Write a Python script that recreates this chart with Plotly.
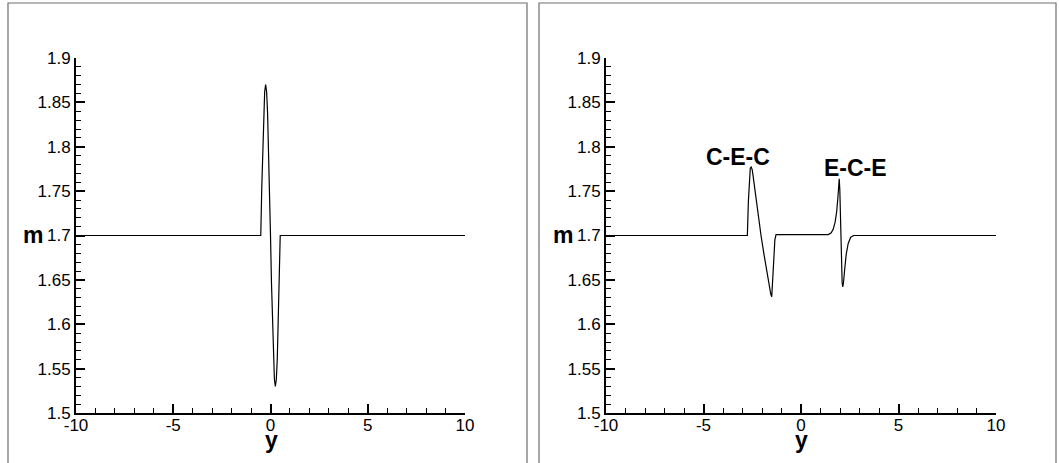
import plotly.graph_objects as go

# Profile of m across y: single compression/expansion pulse
left_y = [-10.0, -0.5, -0.45, -0.4, -0.35, -0.3, -0.25, -0.2, -0.15, -0.1, -0.05,
          0.0, 0.05, 0.1, 0.15, 0.2, 0.25, 0.3, 0.35, 0.4, 0.45, 0.5, 10.0]
left_m = [1.700, 1.700, 1.753, 1.800, 1.838, 1.862, 1.870, 1.862, 1.838, 1.800, 1.753,
          1.700, 1.647, 1.600, 1.562, 1.538, 1.530, 1.538, 1.562, 1.600, 1.647, 1.700, 1.700]

# Profile of m across y: C-E-C and E-C-E structures
right_y = [-10.0, -2.75, -2.70, -2.65, -2.60, -2.55, -2.50, -2.45, -2.35, -2.20, -2.05,
           -1.90, -1.75, -1.62, -1.55, -1.50, -1.46, -1.40, -1.34, -1.28,
           0.0, 1.40, 1.55, 1.65, 1.75, 1.83, 1.89, 1.93, 1.96, 1.99, 2.03, 2.07,
           2.11, 2.14, 2.18, 2.24, 2.32, 2.42, 2.55, 2.70, 10.0]
right_m = [1.700, 1.700, 1.738, 1.766, 1.776, 1.777, 1.774, 1.766, 1.748, 1.722, 1.700,
           1.679, 1.658, 1.641, 1.634, 1.631, 1.645, 1.672, 1.695, 1.701,
           1.701, 1.701, 1.703, 1.707, 1.715, 1.727, 1.742, 1.756, 1.764, 1.752, 1.712, 1.672,
           1.647, 1.642, 1.647, 1.662, 1.679, 1.691, 1.698, 1.700, 1.700]

x_ticks = [-10, -5, 0, 5, 10]
x_tick_text = ["-10", "-5", "0", "5", "10"]
y_ticks = [1.5, 1.55, 1.6, 1.65, 1.7, 1.75, 1.8, 1.85, 1.9]
y_tick_text = ["1.5", "1.55", "1.6", "1.65", "1.7", "1.75", "1.8", "1.85", "1.9"]

W, H = 1059, 463
FONT = "Liberation Sans, Arial, sans-serif"

fig = go.Figure()
fig.add_trace(go.Scatter(x=left_y, y=left_m, mode="lines",
                         line=dict(color="black", width=1.2), xaxis="x", yaxis="y"))
fig.add_trace(go.Scatter(x=right_y, y=right_m, mode="lines",
                         line=dict(color="black", width=1.2), xaxis="x2", yaxis="y2"))


def xaxis(domain, anchor):
    return dict(domain=domain, anchor=anchor, range=[-10, 10], automargin=False,
                tickmode="array", tickvals=x_ticks, ticktext=x_tick_text,
                ticks="inside", ticklen=9, tickwidth=1.5, tickcolor="black",
                minor=dict(ticks="inside", ticklen=5, tickwidth=1.2, tickcolor="black",
                           tick0=-10, dtick=1),
                showline=True, linecolor="black", linewidth=2,
                showgrid=False, zeroline=False, ticklabelstandoff=-4,
                tickfont=dict(family=FONT, size=17, color="black"))


def yaxis(anchor):
    return dict(domain=[50 / H, 1 - 58 / H], anchor=anchor, range=[1.5, 1.9],
                automargin=False,
                tickmode="array", tickvals=y_ticks, ticktext=y_tick_text,
                ticks="inside", ticklen=9, tickwidth=1.5, tickcolor="black",
                minor=dict(ticks="inside", ticklen=5, tickwidth=1.2, tickcolor="black",
                           tick0=1.5, dtick=0.01),
                showline=True, linecolor="black", linewidth=2,
                showgrid=False, zeroline=False,
                tickfont=dict(family=FONT, size=17, color="black"))


fig.update_layout(
    width=W, height=H,
    margin=dict(l=0, r=0, t=0, b=0, autoexpand=False),
    paper_bgcolor="white", plot_bgcolor="white",
    showlegend=False,
    xaxis=xaxis([76 / W, 465 / W], "y"),
    yaxis=yaxis("x"),
    xaxis2=xaxis([606 / W, 996 / W], "y2"),
    yaxis2=yaxis("x2"),
)

# Panel frames
for x0, x1 in [(8, 527), (539, 1056)]:
    fig.add_shape(type="rect", xref="paper", yref="paper",
                  x0=x0 / W, x1=x1 / W, y0=-0.2, y1=1 - 3 / H,
                  line=dict(color="#6e6e6e", width=1.2), fillcolor="rgba(0,0,0,0)")

# Axis titles
for xr, yr, mx, yx in [("x", "y", 45, 271), ("x2", "y2", 575, 801)]:
    fig.add_annotation(text="<b>m</b>", xref="paper", yref=yr, x=mx / W, y=1.7,
                       xanchor="right", yanchor="middle", showarrow=False,
                       font=dict(family=FONT, size=23, color="black"))
    fig.add_annotation(text="<b>y</b>", xref="paper", yref="paper", x=yx / W, y=23 / H,
                       xanchor="center", yanchor="middle", showarrow=False,
                       font=dict(family=FONT, size=23, color="black"))

# Structure labels
fig.add_annotation(text="<b>C-E-C</b>", xref="x2", yref="y2", x=-3.23, y=1.789,
                   xanchor="center", yanchor="middle", showarrow=False,
                   font=dict(family=FONT, size=23, color="black"))
fig.add_annotation(text="<b>E-C-E</b>", xref="x2", yref="y2", x=2.77, y=1.776,
                   xanchor="center", yanchor="middle", showarrow=False,
                   font=dict(family=FONT, size=23, color="black"))

fig.write_html("out.html")
